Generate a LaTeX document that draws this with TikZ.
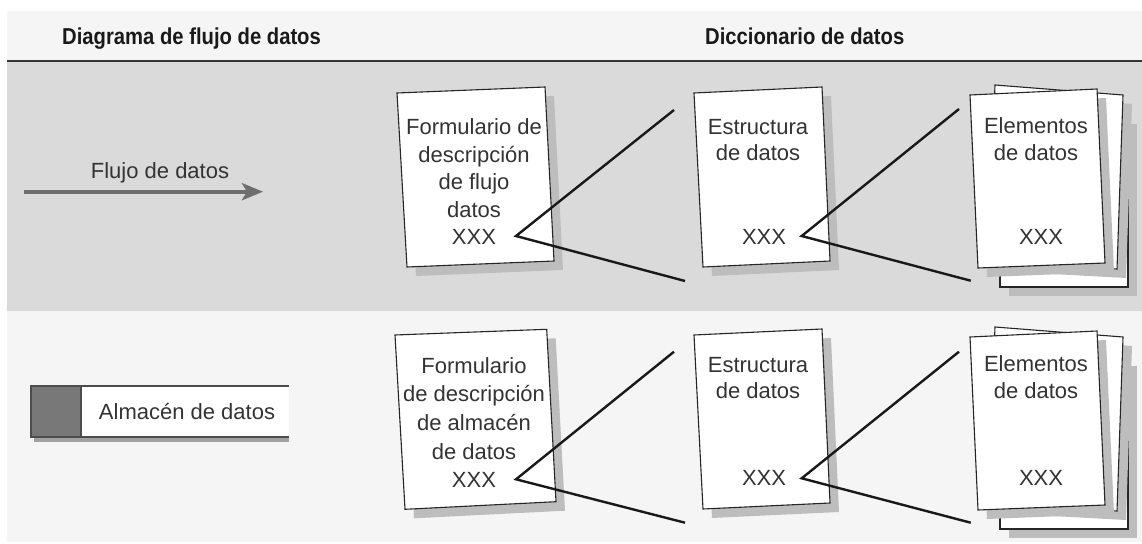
\documentclass[tikz,border=0pt]{standalone}
\usepackage{fontspec}
\setmainfont{Liberation Sans}
\newfontfamily\headfont{Liberation Sans}[FakeStretch=0.88]
\usetikzlibrary{arrows.meta}
\definecolor{bandgray}{HTML}{DADADA}
\definecolor{bandlight}{HTML}{F5F5F5}
\definecolor{shadowgray}{HTML}{BDBDBD}
\definecolor{txtgray}{HTML}{333333}
\definecolor{arrowgray}{HTML}{6E6E6E}
\definecolor{storegray}{HTML}{787878}
\definecolor{ruledark}{HTML}{333333}
\tikzset{
  sheet/.style={fill=white, draw=black!85, line width=1.1pt, line join=miter},
  sheetshadow/.style={fill=shadowgray},
  callout/.style={draw=black!90, line width=2.4pt, line join=miter},
  bodytext/.style={text=txtgray, font=\fontsize{22}{27.5}\selectfont, align=center, inner sep=0pt},
  titletext/.style={bodytext, font=\fontsize{22}{26.5}\selectfont},
  headtext/.style={text=black!90, font=\headfont\bfseries\fontsize{23}{26}\selectfont, inner sep=0pt, anchor=base west},
  flowarrow/.style={draw=arrowgray, line width=4pt, -{Stealth[length=21pt, width=17pt, inset=5pt]}},
}
\begin{document}
\begin{tikzpicture}[x=1pt,y=-1pt]
\useasboundingbox (0,0) rectangle (1142,543);
% bands
\fill[bandlight] (7,11) rectangle (1142,60);
\fill[bandgray] (7,62) rectangle (1142,311);
\fill[bandlight] (7,311) rectangle (1142,541.5);
\draw[ruledark, line width=2.5pt] (7,61.2) -- (1142,61.2);
% headers
\node[headtext] (h1) at (62,45) {Diagrama de flujo de datos};
\node[headtext] (h2) at (705,45) {Diccionario de datos};

% ---------- flow ----------
\coordinate (fa) at (24,191.7);
\coordinate (fb) at (263,191.7);
\draw[flowarrow] (fa) -- (fb);
\node[bodytext] (flowlbl) at (160,173) {Flujo de datos};

% ---------- store ----------
\fill[shadowgray!85!black] (34,436) rectangle (289,441.5);
\fill[white] (31,386) rectangle (289,437);
\fill[storegray] (31,386) rectangle (81,437);
\draw[black!70, line width=1.1pt] (289,386) -- (31,386) -- (31,437) -- (289,437);
\draw[black!70, line width=1.1pt] (81,386) -- (81,437);
\node[bodytext] (storelbl) at (187,411.7) {Almacén de datos};

% ---------- top row ----------
% doc 1
\fill[sheetshadow, shift={(9,9)}] (397,93) -- (545,87) -- (554,261) -- (407,267) -- cycle;
\draw[sheet] (397,93) -- (545,87) -- (554,261) -- (407,267) -- cycle;
\node[bodytext] (d1t) at (474,182) {Formulario de\\descripción\\de flujo\\datos\\XXX};
% doc 2
\fill[sheetshadow, shift={(9,9)}] (694,93) -- (822,87) -- (830,261) -- (703,267) -- cycle;
\draw[sheet] (694,93) -- (822,87) -- (830,261) -- (703,267) -- cycle;
\node[titletext] (d2t) at (758,140) {Estructura\\de datos};
\node[bodytext] (d2x) at (764,237) {XXX};
% doc 3 stack
\fill[sheetshadow, shift={(9,9)}] (1000,115) rectangle (1128,287);
\draw[sheet] (1000,115) rectangle (1128,287);
\fill[sheetshadow, shift={(9,9)}] (995,85) -- (1123,95) -- (1117,269) -- (988,262) -- cycle;
\draw[sheet] (995,85) -- (1123,95) -- (1117,269) -- (988,262) -- cycle;
\fill[sheetshadow, shift={(9,9)}] (970,95) -- (1097,89) -- (1105,263) -- (978,268) -- cycle;
\draw[sheet] (970,95) -- (1097,89) -- (1105,263) -- (978,268) -- cycle;
\node[titletext] (d3t) at (1036,139) {Elementos\\de datos};
\node[bodytext] (d3x) at (1041,237) {XXX};
% callouts
\coordinate (a1) at (516,236);
\coordinate (a1u) at (674,110);
\coordinate (a1d) at (685,281);
\draw[callout] (a1u) -- (a1) -- (a1d);
\coordinate (a2) at (801.7,236);
\coordinate (a2u) at (959,109);
\coordinate (a2d) at (970.7,280.7);
\draw[callout] (a2u) -- (a2) -- (a2d);

% ---------- bottom row ----------
\fill[sheetshadow, shift={(9,9)}] (395,335) -- (546.7,329.3) -- (556,501.7) -- (405,509.3) -- cycle;
\draw[sheet] (395,335) -- (546.7,329.3) -- (556,501.7) -- (405,509.3) -- cycle;
\node[bodytext, font=\fontsize{22}{28.7}\selectfont] (d4t) at (474,422.5) {Formulario\\de descripción\\de almacén\\de datos\\XXX};
\fill[sheetshadow, shift={(9,9)}] (694,335) -- (822,329) -- (830,503) -- (703,509) -- cycle;
\draw[sheet] (694,335) -- (822,329) -- (830,503) -- (703,509) -- cycle;
\node[titletext] (d5t) at (758,378) {Estructura\\de datos};
\node[bodytext] (d5x) at (764,478) {XXX};
\fill[sheetshadow, shift={(9,9)}] (1000,357) rectangle (1128,529);
\draw[sheet] (1000,357) rectangle (1128,529);
\fill[sheetshadow, shift={(9,9)}] (995,327) -- (1123,337) -- (1117,511) -- (988,504) -- cycle;
\draw[sheet] (995,327) -- (1123,337) -- (1117,511) -- (988,504) -- cycle;
\fill[sheetshadow, shift={(9,9)}] (970,337) -- (1097,331) -- (1105,505) -- (978,510) -- cycle;
\draw[sheet] (970,337) -- (1097,331) -- (1105,505) -- (978,510) -- cycle;
\node[titletext] (d6t) at (1036,377) {Elementos\\de datos};
\node[bodytext] (d6x) at (1041,478) {XXX};
\coordinate (b1) at (516,479.3);
\coordinate (b1u) at (674,351.7);
\coordinate (b1d) at (685,522.7);
\draw[callout] (b1u) -- (b1) -- (b1d);
\coordinate (b2) at (801.7,478.3);
\coordinate (b2u) at (959,351.7);
\coordinate (b2d) at (970.7,522.7);
\draw[callout] (b2u) -- (b2) -- (b2d);
\end{tikzpicture}
\end{document}
